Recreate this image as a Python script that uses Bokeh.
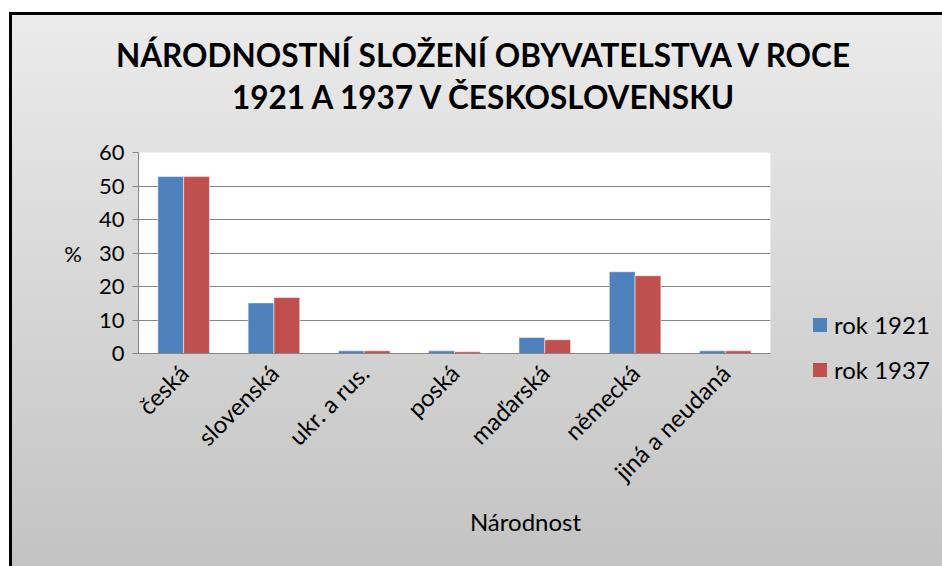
from math import pi
from bokeh.plotting import figure
from bokeh.layouts import column, row
from bokeh.models import (FactorRange, Label, ColumnDataSource, FixedTicker, Div)
from bokeh.transform import dodge
from bokeh.embed import file_html
from bokeh.resources import INLINE

categories = ["česká", "slovenská", "ukr. a rus.", "poská", "maďarská", "německá", "jiná a neudaná"]
rok_1921 = [52.8, 15.1, 0.8, 0.8, 4.8, 24.4, 0.8]
rok_1937 = [52.8, 16.7, 0.8, 0.5, 4.1, 23.2, 0.8]
y_ticks = [0, 10, 20, 30, 40, 50, 60]
series_names = ["rok 1921", "rok 1937"]
title_lines = ["NÁRODNOSTNÍ SLOŽENÍ OBYVATELSTVA V ROCE", "1921 A 1937 V ČESKOSLOVENSKU"]
x_title = "Národnost"
y_title = "%"

FONT = "Lato"
BLUE = "#4f81bd"
RED = "#c0504d"
GRID = "#868686"
series_colors = [BLUE, RED]

source = ColumnDataSource(dict(cat=categories, r1921=rok_1921, r1937=rok_1937))

bg = ("linear-gradient(#000,#000) 9px 12px / 100% 3px no-repeat, "
      "linear-gradient(#000,#000) 9px 12px / 3px 100% no-repeat, "
      "linear-gradient(#ebebeb,#c2c2c2) 9px 12px / 100% 100% no-repeat, #ffffff")

# ---- title block ----
title_html = (
    f'<div style="font-family:{FONT};font-weight:bold;font-size:31.5px;line-height:42px;'
    f'color:black;text-align:center;padding-top:34px;padding-left:24px;width:942px;'
    f'box-sizing:border-box;">'
    f'{title_lines[0]}<br>{title_lines[1]}</div>'
)
title_div = Div(text=title_html, width=942, height=130, margin=0)

# ---- main chart ----
p = figure(x_range=FactorRange(factors=categories, range_padding=0), y_range=(0, 60),
           width=800, height=436, output_backend="svg", toolbar_location=None,
           min_border_left=138, min_border_right=30, min_border_top=22, min_border_bottom=213,
           border_fill_color=None, background_fill_color="white", outline_line_color=None)

bw = 1 / 3.5
r1 = p.vbar(x=dodge("cat", -bw / 2, range=p.x_range), top="r1921", width=bw, source=source,
            fill_color=BLUE, line_color="white", line_alpha=0.5)
r2 = p.vbar(x=dodge("cat", bw / 2, range=p.x_range), top="r1937", width=bw, source=source,
            fill_color=RED, line_color="white", line_alpha=0.5)

p.yaxis.ticker = FixedTicker(ticks=y_ticks)
p.yaxis.axis_label = y_title
p.yaxis.axis_label_orientation = "horizontal"
p.yaxis.axis_label_text_font = FONT
p.yaxis.axis_label_text_font_style = "normal"
p.yaxis.axis_label_text_font_size = "22px"
p.yaxis.axis_label_text_color = "black"
p.yaxis.axis_label_standoff = 14
p.yaxis.major_label_text_font = FONT
p.yaxis.major_label_text_font_size = "22px"
p.yaxis.major_label_text_color = "black"
p.yaxis.major_label_standoff = 8
p.yaxis.axis_line_color = GRID
p.yaxis.major_tick_line_color = GRID
p.yaxis.major_tick_out = 6
p.yaxis.major_tick_in = 0
p.yaxis.minor_tick_line_color = None

p.xaxis.major_label_orientation = pi / 4
p.xaxis.major_label_text_font = FONT
p.xaxis.major_label_text_font_size = "24px"
p.xaxis.major_label_text_color = "black"
p.xaxis.major_label_standoff = 9
p.xaxis.axis_line_color = GRID
p.xaxis.major_tick_line_color = None
p.xaxis.minor_tick_line_color = None

p.xgrid.grid_line_color = None
p.ygrid.grid_line_color = GRID
p.ygrid.ticker = FixedTicker(ticks=y_ticks)

p.add_layout(Label(x=387, y=6, x_units="screen", y_units="screen", text=x_title,
                   text_font=FONT, text_font_size="24px",
                   text_align="center", text_baseline="middle", text_color="black"), "below")

# ---- legend block ----
rows_html = ""
for i, (name, col) in enumerate(zip(series_names, series_colors)):
    mt = "0" if i == 0 else "17px"
    rows_html += (
        f'<div style="display:flex;align-items:center;height:28px;margin-top:{mt};">'
        f'<span style="display:inline-block;width:14px;height:14px;background:{col};'
        f'margin-right:7px;"></span>{name}</div>'
    )
legend_html = (
    f'<div style="font-family:{FONT};font-size:24px;color:black;line-height:28px;'
    f'padding-left:13px;padding-top:181px;white-space:nowrap;">{rows_html}</div>'
)
legend_div = Div(text=legend_html, width=142, height=436, margin=0)

layout = column(title_div, row(p, legend_div, spacing=0, margin=0), spacing=0, margin=0,
                styles={"background": bg})

open("out.html", "w").write(file_html(layout, INLINE))
